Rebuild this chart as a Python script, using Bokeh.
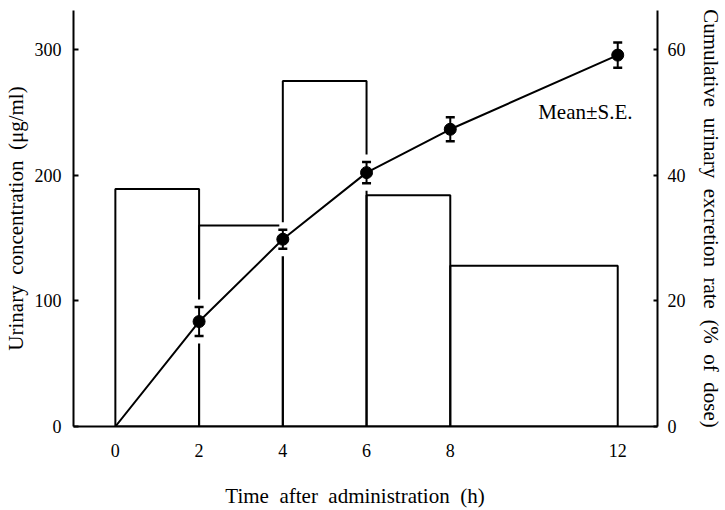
from bokeh.plotting import figure
from bokeh.models import Range1d, LinearAxis, FixedTicker, Label
from bokeh.embed import file_html
from bokeh.resources import INLINE

# ---- data ----
interval_edges = [0, 2, 4, 6, 8, 12]
urinary_conc = [189, 160, 275, 184, 128]          # µg/ml per collection interval
time_h = [0, 2, 4, 6, 8, 12]
cum_excretion = [0, 16.7, 29.8, 40.4, 47.3, 59.1]  # % of dose
cum_se = [0, 2.3, 1.5, 1.7, 1.9, 2.0]
x_ticks = [0, 2, 4, 6, 8, 12]
left_ticks = [0, 100, 200, 300]
right_ticks = [0, 20, 40, 60]

FONT = "Liberation Serif"
ES = "\u2002"   # en space

p = figure(width=725, height=510, output_backend="svg", toolbar_location=None,
           x_range=Range1d(-1, 12.95), y_range=Range1d(0, 331),
           min_border_left=71, min_border_right=64, min_border_top=10, min_border_bottom=82)
p.extra_y_ranges = {"pct": Range1d(0, 66.2)}
p.outline_line_color = None
p.xgrid.visible = False
p.ygrid.visible = False
p.background_fill_color = "white"
p.border_fill_color = "white"

# bars (histogram of concentration)
p.quad(left=interval_edges[:-1], right=interval_edges[1:], bottom=0, top=urinary_conc,
       fill_color=None, line_color="black", line_width=2)

# white gaps behind error bars
lo = [m - s for m, s in zip(cum_excretion[1:], cum_se[1:])]
hi = [m + s for m, s in zip(cum_excretion[1:], cum_se[1:])]
p.segment(x0=time_h[1:], x1=time_h[1:], y0=[v - 1.2 for v in lo], y1=[v + 1.2 for v in hi],
          line_color="white", line_width=7, y_range_name="pct")

# cumulative line
p.line(time_h, cum_excretion, line_color="black", line_width=2, y_range_name="pct")
p.segment(x0=time_h[1:], x1=time_h[1:], y0=lo, y1=hi, line_color="black", line_width=2,
          y_range_name="pct")
p.scatter(time_h[1:], lo, marker="dash", size=9, line_width=2.5, line_color="black",
          y_range_name="pct")
p.scatter(time_h[1:], hi, marker="dash", size=9, line_width=2.5, line_color="black",
          y_range_name="pct")
p.scatter(time_h[1:], cum_excretion[1:], marker="circle", size=12, fill_color="black",
          line_color="black", y_range_name="pct")

p.add_layout(Label(x=10.1, y=50, y_range_name="pct", text="Mean\u00b1S.E.",
                   text_font=FONT, text_font_size="21px", text_baseline="middle",
                   text_color="black"))

# axes
right = LinearAxis(y_range_name="pct")
p.add_layout(right, "right")

for ax, ticks in ((p.xaxis[0], x_ticks), (p.yaxis[0], left_ticks), (right, right_ticks)):
    ax.ticker = FixedTicker(ticks=ticks)
    ax.minor_tick_line_color = None
    ax.axis_line_width = 2
    ax.axis_line_color = "black"
    ax.major_tick_line_width = 2
    ax.major_tick_line_color = "black"
    ax.major_label_text_font = FONT
    ax.major_label_text_font_size = "18px"
    ax.major_label_text_color = "black"
    ax.axis_label_text_font = FONT
    ax.axis_label_text_font_size = "21px"
    ax.axis_label_text_font_style = "normal"
    ax.axis_label_text_color = "black"

p.xaxis[0].major_tick_in = 0
p.xaxis[0].major_tick_out = 0
p.xaxis[0].major_label_standoff = 17
p.xaxis[0].axis_label = "Time" + ES + "after" + ES + "administration" + ES + "(h)" + ES + ES
p.xaxis[0].axis_label_standoff = 24

p.yaxis[0].major_tick_in = 5
p.yaxis[0].major_tick_out = 0
p.yaxis[0].major_label_standoff = 12
p.yaxis[0].axis_label = "Urinary" + ES + "concentration" + ES + "(\u03bcg/ml)"
p.yaxis[0].axis_label_standoff = 4

right.major_tick_in = 4
right.major_tick_out = 0
right.major_label_standoff = 10
right.axis_label = ("Cumulative" + ES + "urinary" + ES + "excretion" + ES + "rate" + ES
                    + "(%" + ES + "of" + ES + "dose)")
right.axis_label_standoff = 10

open("out.html", "w").write(file_html(p, INLINE))
